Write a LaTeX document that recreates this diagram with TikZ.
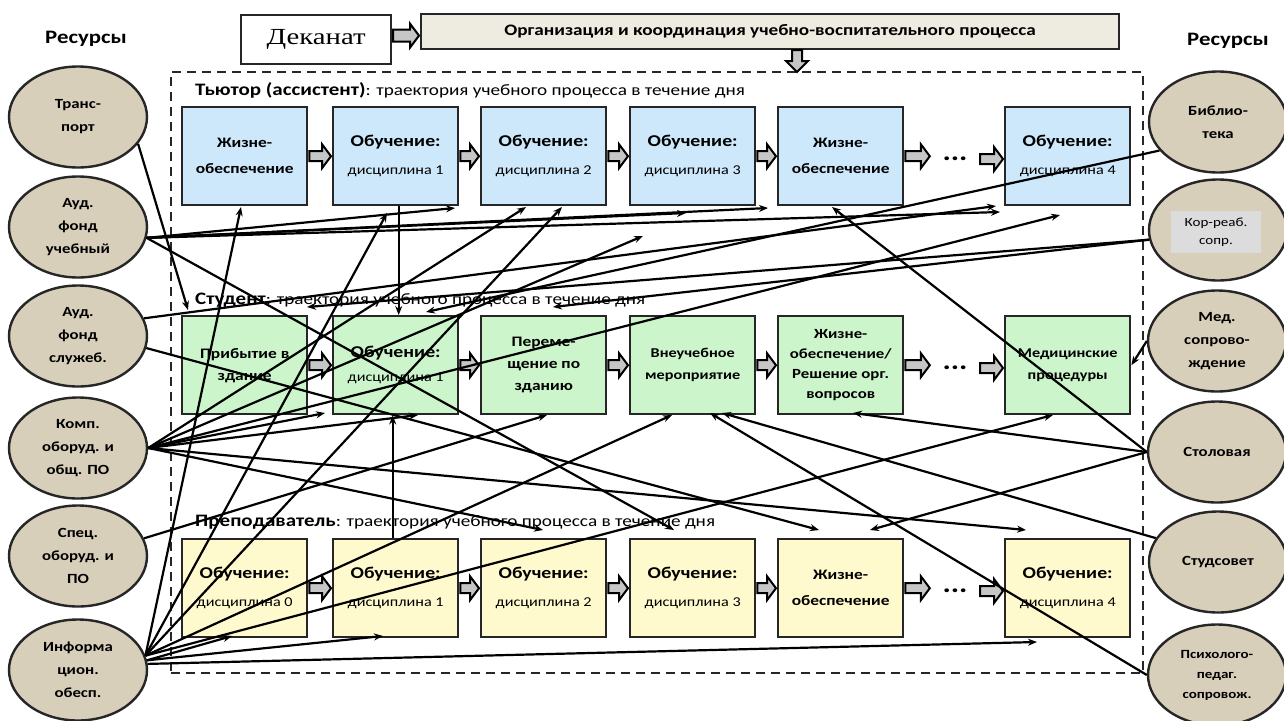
\documentclass[tikz,border=0pt]{standalone}
\usepackage{fontspec}
\setmainfont[FakeStretch=1.2]{Carlito}
\newfontfamily\dekfont[FakeStretch=1.25]{Liberation Serif}
\usetikzlibrary{shapes.geometric,arrows.meta,calc}
\definecolor{resfill}{RGB}{215,207,186}
\definecolor{tutfill}{RGB}{205,232,250}
\definecolor{stufill}{RGB}{204,245,204}
\definecolor{teafill}{RGB}{255,250,205}
\definecolor{orgfill}{RGB}{238,236,225}
\definecolor{krfill}{RGB}{220,220,220}
\newcommand\fs[1]{\fontsize{#1}{#1}\selectfont}
\newcommand\blkarr[2]{\draw[blk] let \p1=(#1.east), \p2=(#2.west) in
  (\x1+1pt,\y1+5pt) -- (\x2-10pt,\y1+5pt) -- (\x2-10pt,\y1+12pt) -- (\x2-1pt,\y1)
  -- (\x2-10pt,\y1-12pt) -- (\x2-10pt,\y1-5pt) -- (\x1+1pt,\y1-5pt) -- cycle;}
\newcommand\ob[1]{{\fs{16.5}\bfseries Обучение:}\\[2pt]{\fs{13.5}\mdseries дисциплина #1}}
\begin{document}
\begin{tikzpicture}[x=1pt,y=-1pt,
  res/.style={ellipse, draw=black!85, line width=2.4pt, fill=resfill,
    minimum width=138pt, minimum height=101pt, inner sep=0pt, align=center,
    font=\fontsize{14}{23}\selectfont\bfseries},
  box/.style={draw=black!85, line width=2.4pt, minimum width=125pt,
    minimum height=98pt, inner sep=0pt, align=center, anchor=north west,
    font=\fontsize{14.5}{26}\selectfont\bfseries},
  tut/.style={box, fill=tutfill},
  stu/.style={box, fill=stufill},
  tea/.style={box, fill=teafill},
  blk/.style={fill=gray!45, draw=black, line width=2pt, line join=miter},
  con/.style={line width=2.2pt, -{Stealth[length=9pt,width=7pt]}},
  ttl/.style={anchor=west, inner sep=0pt},
  dts/.style={minimum width=48pt, inner sep=0pt, font=\fs{26}\bfseries}
]
\useasboundingbox (0,0) rectangle (1284,720);
\fill[white] (0,0) rectangle (1284,720);

% header
\node[anchor=center, font=\fs{19}\bfseries] (resL) at (86,39) {Ресурсы};
\node[anchor=center, font=\fs{19}\bfseries] (resR) at (1228,41) {Ресурсы};
\node[draw=black!85, line width=2.2pt, fill=white, minimum width=150pt, minimum height=49pt,
  inner sep=0pt, anchor=north west, font=\dekfont\fs{23}] (dek) at (240,14) {Деканат};
\node[draw=black!85, line width=2.2pt, fill=orgfill, minimum width=698pt, minimum height=35pt,
  inner sep=0pt, anchor=north west, font=\fs{16}\bfseries] (org) at (420,13)
  {Организация и координация учебно-воспитательного процесса};
\draw[blk] let \p1=(dek.east), \p2=(org.west) in
  (\x1+1pt,\y1+10pt) -- (\x2-10pt,\y1+10pt) -- (\x2-10pt,\y1+16pt) -- (\x2-1pt,\y1+4pt)
  -- (\x2-10pt,\y1-8pt) -- (\x2-10pt,\y1-2pt) -- (\x1+1pt,\y1-2pt) -- cycle;

% frame
\node[draw=black!85, dash pattern=on 9pt off 6pt, line width=1.7pt, minimum width=972pt,
  minimum height=601pt, inner sep=0pt, anchor=north west] (frame) at (170,71) {};
\coordinate (ftop) at (797,71);
\draw[blk] let \p1=(org.south -| ftop), \p2=(ftop) in
  (\x1-5pt,\y1) -- (\x1-5pt,\y2+10pt) -- (\x1-11pt,\y2+10pt) -- (\x1,\y2-1pt)
  -- (\x1+11pt,\y2+10pt) -- (\x1+5pt,\y2+10pt) -- (\x1+5pt,\y1) -- cycle;

% titles
\node[ttl] (ttut) at (195,90) {{\fs{17.5}\bfseries Тьютор (ассистент)}{\fs{16}: траектория учебного процесса в течение дня}};
\node[ttl] (tstu) at (195,300) {{\fs{17.5}\bfseries Студент}{\fs{16}: траектория учебного процесса в течение дня}};
\node[ttl] (ttea) at (195,522) {{\fs{17.5}\bfseries Преподаватель}{\fs{16}: траектория учебного процесса в течение дня}};

% tutor row
\node[tut] (t1) at (181,106) {Жизне-\\обеспечение};
\node[tut] (t2) at (332,106) {\ob{1}};
\node[tut] (t3) at (480,106) {\ob{2}};
\node[tut] (t4) at (629,106) {\ob{3}};
\node[tut] (t5) at (777,106) {Жизне-\\обеспечение};
\node[tut] (t6) at (1004,106) {\ob{4}};
\node[dts] (d1) at (955,159) {...};
% student row
\node[stu, font=\fontsize{14.5}{22}\selectfont\bfseries] (s1) at (181,315) {Прибытие в\\здание};
\node[stu, font=\fontsize{14.5}{22}\selectfont\bfseries] (s2) at (332,315) {\ob{1}};
\node[stu, font=\fontsize{14.5}{22}\selectfont\bfseries] (s3) at (480,315) {Переме-\\щение по\\зданию};
\node[stu, font=\fontsize{13.5}{22}\selectfont\bfseries] (s4) at (629,315) {Внеучебное\\мероприятие};
\node[stu, font=\fontsize{14}{20}\selectfont\bfseries] (s5) at (777,315) {Жизне-\\обеспечение/\\Решение орг.\\вопросов};
\node[stu, font=\fontsize{13.5}{22}\selectfont\bfseries] (s6) at (1004,315) {Медицинские\\процедуры};
\node[dts] (d2) at (955,368) {...};
% teacher row
\node[tea] (p1) at (181,538) {\ob{0}};
\node[tea] (p2) at (332,538) {\ob{1}};
\node[tea] (p3) at (480,538) {\ob{2}};
\node[tea] (p4) at (629,538) {\ob{3}};
\node[tea] (p5) at (777,538) {Жизне-\\обеспечение};
\node[tea] (p6) at (1004,538) {\ob{4}};
\node[dts] (d3) at (955,591) {...};

% block arrows
\blkarr{t1}{t2}\blkarr{t2}{t3}\blkarr{t3}{t4}\blkarr{t4}{t5}\blkarr{t5}{d1}\blkarr{d1}{t6}
\blkarr{s1}{s2}\blkarr{s2}{s3}\blkarr{s3}{s4}\blkarr{s4}{s5}\blkarr{s5}{d2}\blkarr{d2}{s6}
\blkarr{p1}{p2}\blkarr{p2}{p3}\blkarr{p3}{p4}\blkarr{p4}{p5}\blkarr{p5}{d3}\blkarr{d3}{p6}

% resources
\node[res] (tr)  at (78,117) {Транс-\\порт};
\node[res] (au)  at (78,227) {Ауд.\\фонд\\учебный};
\node[res] (as)  at (78,336) {Ауд.\\фонд\\служеб.};
\node[res] (kom) at (78,448) {Комп.\\оборуд. и\\общ. ПО};
\node[res] (sp)  at (78,556) {Спец.\\оборуд. и\\ПО};
\node[res] (inf) at (78,670) {Информа\\цион.\\обесп.};
\node[res] (bib) at (1218,122) {Библио-\\тека};
\node[res] (kr)  at (1218,230) {};
\node[fill=krfill, minimum width=90pt, minimum height=42pt, inner sep=0pt, align=center,
  font=\fontsize{12.5}{18}\selectfont] (krt) at (1216,232) {Кор-реаб.\\сопр.};
\node[res] (med) at (1217,341) {Мед.\\сопрово-\\ждение};
\node[res] (sto) at (1217,452) {Столовая};
\node[res] (sds) at (1218,562) {Студсовет};
\node[res, font=\fontsize{12.5}{20}\selectfont\bfseries] (psy) at (1217,675) {Психолого-\\педаг.\\сопровож.};

% connectors
\draw[con] ([xshift=3pt]t2.south) -- ([xshift=3pt]s2.north);
\draw[con] ([xshift=-3pt]p2.north) -- ([xshift=-3pt]s2.south);
\draw[con] (tr.-24) -- (188,310);
\draw[con] (au.-9) -- (455,208);
\draw[con] (au.-9) -- (686,213);
\draw[con] (au.-9) -- (768,208);
\draw[con] (au.-9) -- (1000,212);
\draw[con] (au.-9) -- (674,530);
\draw[con] (as.15) -- (996,206);
\draw[con] (as.-10) -- (819,530);
\draw[con] (kom.east) -- (325,413);
\draw[con] (kom.east) -- (418,415);
\draw[con] (kom.east) -- (526,207);
\draw[con] (kom.east) -- (643,236);
\draw[con] (kom.east) -- (1060,215);
\draw[con] (kom.east) -- (543,530);
\draw[con] (kom.east) -- (1026,530);
\draw[con] (sp.15) -- (547,415);
\draw[con] (inf.12) -- (241,207);
\draw[con] (inf.12) -- (387,213);
\draw[con] (inf.12) -- (562,207);
\draw[con] (inf.12) -- (672,415);
\draw[con] (inf.12) -- (1053,415);
\draw[con] (inf.8) -- (232,636);
\draw[con] (inf.8) -- (383,636);
\draw[con] (inf.5) -- (1037,642);
\draw[con] (bib.-154) -- (426,312);
\draw[con] (kr.-172) -- (307,307);
\draw[con] (kr.-172) -- (553,307);
\draw[con] (med.west) -- (s6.east);
\draw[con] (sto.west) -- (832,207);
\draw[con] (sto.west) -- (853,413);
\draw[con] (sto.west) -- (870,530);
\draw[con] (sds.159) -- (722,413);
\draw[con] (psy.west) -- (710,413);
\end{tikzpicture}
\end{document}
